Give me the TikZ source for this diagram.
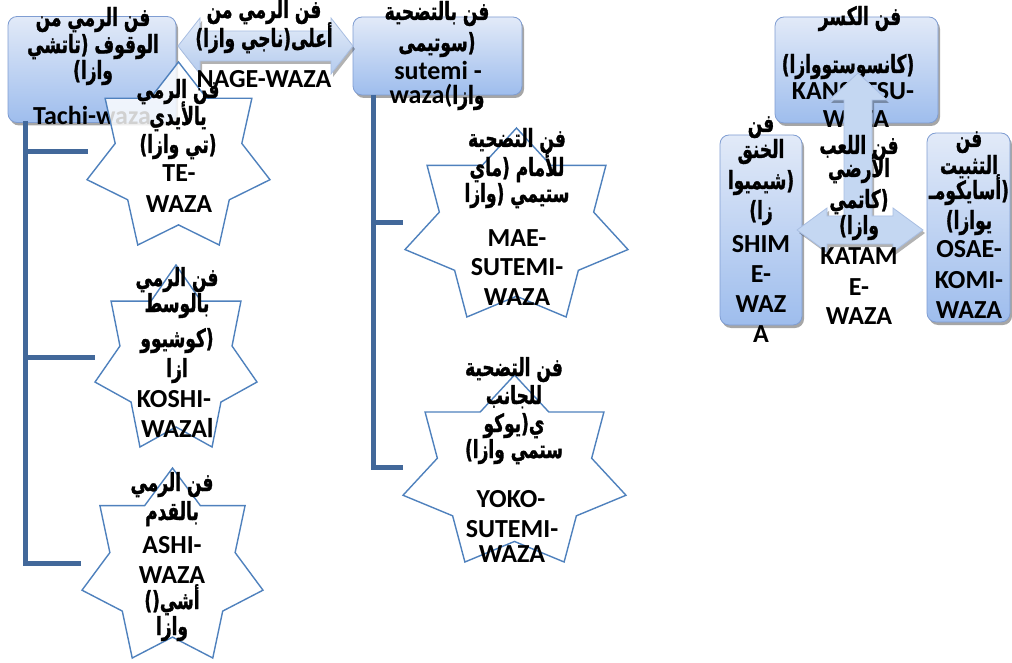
\documentclass[tikz,border=0pt]{standalone}
\usepackage{fontspec}
\setmainfont{Carlito}
\newfontfamily\arabicfont[Script=Arabic, FakeStretch=0.68, FakeBold=1.2]{DejaVu Sans}
\TeXXeTstate=1
\usetikzlibrary{shadows}
\definecolor{boxtop}{RGB}{226,234,248}
\definecolor{boxbot}{RGB}{158,189,237}
\definecolor{boxdraw}{RGB}{127,157,210}
\definecolor{treec}{RGB}{66,104,154}
\definecolor{starc}{RGB}{79,129,189}
\definecolor{arrtop}{RGB}{228,236,248}
\definecolor{arrbot}{RGB}{180,203,238}
\definecolor{arrdraw}{RGB}{168,190,226}
\definecolor{arrfill}{RGB}{196,215,242}
\newcommand\ar[1]{{\arabicfont\fontsize{25}{25}\selectfont\bfseries\beginR #1\endR}}
\newcommand\la[1]{{\rmfamily\fontsize{26}{26}\selectfont\bfseries #1}}
\newcommand\tl[4]{\node[txt] (#1) at (#2,#3) {#4};}
\newcommand\sevenstar[5]{%
  \coordinate (#1) at (#2,#3);
  \draw[starshape] plot[samples at={0,...,13}, variable=\k]
    ({#2 + (#4/2/0.97493)*(1-0.308*mod(\k,2))*sin(\k*25.7143)},
     {#3 + (#5/1.90097)*(1-(1-0.308*mod(\k,2))*cos(\k*25.7143))}) -- cycle;}
\tikzset{
  box/.style={rounded corners=9pt, draw=boxdraw, line width=0.8pt,
    top color=boxtop, bottom color=boxbot, inner sep=0pt,
    drop shadow={shadow xshift=2pt, shadow yshift=-3pt, opacity=0.35, fill=black}},
  bigarrow/.style={draw=arrdraw, line width=0.8pt, top color=arrtop, bottom color=arrbot,
    drop shadow={shadow xshift=2pt, shadow yshift=-3pt, opacity=0.3, fill=black}},
  crossarrow/.style={draw=arrdraw, line width=0.8pt, fill=arrfill,
    drop shadow={shadow xshift=2pt, shadow yshift=-3pt, opacity=0.3, fill=black}},
  tree/.style={draw=treec, line width=5pt, line join=miter},
  starshape/.style={draw=starc, line width=1.4pt, fill=white, fill opacity=0.82},
  txt/.style={inner sep=0pt, anchor=base, text=black},
}
\begin{document}
\begin{tikzpicture}[x=1pt,y=-1pt]
\useasboundingbox (0,0) rectangle (1012,663);
% ---------- left group: boxes and arrow
\node[box, minimum width=168pt, minimum height=106pt] (tachi) at (92,69.5) {};
\node[box, minimum width=169pt, minimum height=78pt] (sutemi) at (437.5,56) {};
\draw[bigarrow] (178,46) -- (200,18) -- (200,31) -- (331,31) -- (331,18) -- (353,46)
  -- (331,74) -- (331,61) -- (200,61) -- (200,74) -- cycle;
\coordinate (nage) at (265,46);
% box texts
\tl{ta1}{93}{26}{\ar{فن الرمي من}}
\tl{ta2}{93}{53}{\ar{الوقوف (تاتشي}}
\tl{ta3}{93}{79}{\ar{وازا)}}
\tl{ta4}{92}{125}{\la{Tachi-waza}}
\tl{su1}{437}{20}{\ar{فن بالتضحية}}
\tl{su2}{437}{51}{\ar{(سوتيمى}}
\tl{su3}{438}{80}{\la{sutemi -}}
\tl{su4}{437}{104}{\ar{وازا\hbox{\la{(}}\hbox{\la{waza}}}}
% ---------- tree lines
\coordinate (L0) at (25,121);
\coordinate (L1) at (25,152);
\coordinate (L2) at (25,357);
\coordinate (L3) at (25,563);
\draw[tree] (L0) -- (L3) -- (81,563);
\draw[tree] (L1) -- (88,152);
\draw[tree] (L2) -- (95,357);
\coordinate (R0) at (373,95);
\coordinate (R1) at (373,223);
\coordinate (R2) at (373,467);
\draw[tree] (R0) -- (R2) -- (403,467);
\draw[tree] (R1) -- (403,223);
% ---------- stars
\sevenstar{st1}{178.5}{62}{183}{183}
\sevenstar{st2}{176}{265}{162}{182}
\sevenstar{st3}{172.5}{468}{181}{190}
\sevenstar{st4}{516.5}{128}{223}{189}
\sevenstar{st5}{514.5}{375}{223}{187}
% star texts
\tl{te1}{178}{98}{\ar{فن الرمي}}
\tl{te2}{178}{125}{\ar{يالأيدي}}
\tl{te3}{178}{153}{\ar{(تي وازا)}}
\tl{te4}{179}{182}{\la{TE-}}
\tl{te5}{179}{213}{\la{WAZA}}
\tl{ko1}{177}{286}{\ar{فن الرمي}}
\tl{ko2}{177}{312}{\ar{بالوسط}}
\tl{ko3}{177}{347}{\ar{(كوشيوو}}
\tl{ko4}{177}{377}{\ar{ازا}}
\tl{ko5}{174}{407}{\la{KOSHI-}}
\tl{ko6}{177}{437}{\la{WAZA}\ar{ا}}
\tl{as1}{172}{491}{\ar{فن الرمي}}
\tl{as2}{172}{520}{\ar{بالقدم}}
\tl{as3}{172}{553}{\la{ASHI-}}
\tl{as4}{172}{583}{\la{WAZA}}
\tl{as5}{172}{609}{\ar{أشي\hbox{()}}}
\tl{as6}{172}{635}{\ar{وازا}}
\tl{ma1}{517}{147}{\ar{فن التضحية}}
\tl{ma2}{517}{176}{\ar{للأمام (ماي}}
\tl{ma3}{517}{202}{\ar{ستيمي (وازا}}
\tl{ma4}{517}{247}{\la{MAE-}}
\tl{ma5}{517}{275}{\la{SUTEMI-}}
\tl{ma6}{517}{305}{\la{WAZA}}
\tl{yo1}{514}{376}{\ar{فن التضحية}}
\tl{yo2}{514}{404}{\ar{للجانب}}
\tl{yo3}{514}{432}{\ar{ي(يوكو}}
\tl{yo4}{514}{458}{\ar{ستمي وازا)}}
\tl{yo5}{511}{507}{\la{YOKO-}}
\tl{yo6}{512}{537}{\la{SUTEMI-}}
\tl{yo7}{512}{562}{\la{WAZA}}
% arrow label (over star)
\tl{na1}{264}{18}{\ar{فن الرمي من}}
\tl{na2}{264}{47}{\ar{أعلى(ناجي وازا)}}
\tl{na3}{264}{88}{\la{NAGE-WAZA}}
% ---------- right group
\node[box, minimum width=163pt, minimum height=106pt] (kansetsu) at (856.5,70) {};
\tl{ka1}{860}{25}{\ar{فن الكسر}}
\tl{ka2}{848}{73}{\ar{(كانسوستووازا)}}
\tl{ka3}{853}{100}{\la{KANSETSU-}}
\tl{ka4}{856}{128}{\la{WAZA}}
\node[box, minimum width=82pt, minimum height=190pt] (shime) at (761,230) {};
\node[box, minimum width=83pt, minimum height=189pt] (osae) at (968.5,227.5) {};
\draw[crossarrow] (858,73) -- (887,100) -- (872,100) -- (872,216) -- (893,216) -- (893,208)
  -- (923,230) -- (893,252) -- (893,244) -- (827,244) -- (827,252) -- (797,230)
  -- (827,208) -- (827,216) -- (844,216) -- (844,100) -- (829,100) -- cycle;
\coordinate (katame) at (858,230);
\tl{sh1}{761}{132}{\ar{فن}}
\tl{sh2}{761}{158}{\ar{الخنق}}
\tl{sh3}{761}{189}{\ar{(شيميوا}}
\tl{sh4}{761}{219}{\ar{زا)}}
\tl{sh5}{761}{252}{\la{SHIM}}
\tl{sh6}{761}{282}{\la{E-}}
\tl{sh7}{761}{312}{\la{WAZ}}
\tl{sh8}{761}{342}{\la{A}}
\tl{os1}{969}{147}{\ar{فن}}
\tl{os2}{969}{174}{\ar{التثبيت}}
\tl{os3}{969}{199}{\ar{(أسايكومـ}}
\tl{os4}{969}{229}{\ar{يوازا)}}
\tl{os5}{969}{258}{\la{OSAE-}}
\tl{os6}{969}{288}{\la{KOMI-}}
\tl{os7}{969}{318}{\la{WAZA}}
\tl{km1}{859}{154}{\ar{فن اللعب}}
\tl{km2}{859}{177}{\ar{الأرضي}}
\tl{km3}{859}{208}{\ar{(كاتمي}}
\tl{km4}{859}{234}{\ar{وازا)}}
\tl{km5}{859}{265}{\la{KATAM}}
\tl{km6}{859}{295}{\la{E-}}
\tl{km7}{859}{324}{\la{WAZA}}
\end{tikzpicture}
\end{document}
